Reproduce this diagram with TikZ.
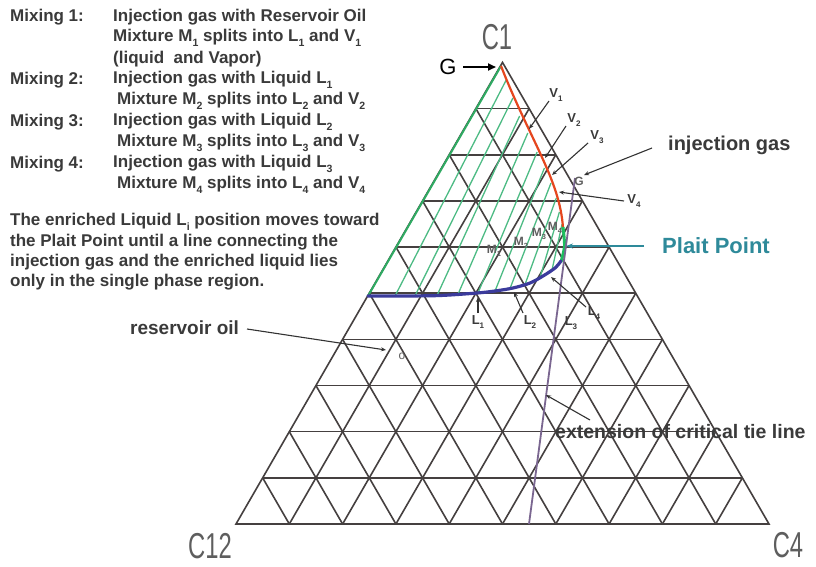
\documentclass[tikz,border=0pt]{standalone}
\usepackage{fontspec}
\setmainfont{Liberation Sans}
\usetikzlibrary{arrows.meta}
\definecolor{gridc}{HTML}{454040}
\definecolor{txtc}{HTML}{3A3A3A}
\definecolor{redc}{HTML}{E5461E}
\definecolor{bluec}{HTML}{3B3B9C}
\definecolor{plaitg}{HTML}{1DBE5E}
\definecolor{tieg}{HTML}{4DBB84}
\definecolor{edgeg}{HTML}{2FAA62}
\definecolor{tealc}{HTML}{2E8A9A}
\definecolor{purc}{HTML}{7A6690}
\definecolor{cornc}{HTML}{5E5E5E}
\definecolor{ptrc}{HTML}{333333}
\newcommand{\subx}[1]{\raisebox{-0.28em}{\scalebox{0.62}{#1}}}
\begin{document}
\begin{tikzpicture}[x=1pt,y=-1pt,
  gridline/.style={draw=gridc, line width=1.6pt},
  tie/.style={draw=tieg, line width=1.3pt},
  ptr/.style={draw=ptrc, line width=1.1pt, -{Stealth[length=5pt,width=4pt]}},
  txt/.style={font=\fontsize{17}{19}\selectfont\bfseries, text=txtc, inner sep=0pt, anchor=west},
  lab/.style={font=\fontsize{20}{22}\selectfont\bfseries, text=txtc, inner sep=0pt, anchor=west},
  sml/.style={font=\fontsize{13}{14}\selectfont\bfseries, text=txtc, inner sep=0pt},
  msml/.style={font=\fontsize{12}{13}\selectfont\bfseries, text=cornc, inner sep=0pt},
  corner/.style={font=\fontsize{36}{36}\selectfont, text=cornc, inner sep=0pt}
]
\useasboundingbox (0,0) rectangle (816,566);
\fill[white] (0,0) rectangle (816,566);

% grid
\foreach \k in {1,...,9} {
  \draw[gridline] ({236+\k*26.65},{524-\k*46.16}) -- ({769-\k*26.65},{524-\k*46.16});
  \draw[gridline] ({236+\k*53.3},524) -- ({236+\k*53.3+(10-\k)*26.65},{524-(10-\k)*46.16});
  \draw[gridline] ({236+\k*53.3},524) -- ({236+\k*26.65},{524-\k*46.16});
}
\draw[gridline, line join=miter] (236,524) -- (769,524) -- (502.5,62.4) -- cycle;

% tie lines
\foreach \lx/\ly/\vx/\vy in {395/296/506.2/80, 415/295.8/512.9/98, 437/295.5/519.6/116, 458/294.3/527.8/133, 478/292.9/537.1/152, 495/291/544.4/168, 510/288.5/551/183, 525/284.5/556.3/198, 540/277.6/559.4/212, 552/270/562.1/224}
  \draw[tie] (\lx,\ly) -- (\vx,\vy);
\draw[edgeg, line width=2pt] (501,66) -- (368,296);

% phase envelope
\draw[redc, line width=2.2pt] (501,66) .. controls (530,140) and (560,180) .. (563,228);
\draw[plaitg, line width=3pt] plot[smooth] coordinates {(563,227) (564.5,246) (561,262)};
\draw[bluec, line width=3.2pt, line cap=round] plot[smooth] coordinates {(561,261) (555,268) (543,276) (530,283) (513,288) (495,291) (477,293) (440,295.5) (400,296) (368,296)};

% critical tie line extension
\coordinate (gpt) at (575,178);
\coordinate (cbot) at (529,524);
\draw[purc, line width=1.8pt] (gpt) -- (cbot);

% corner labels
\node[corner] (c1) at (497,37) {\scalebox{0.66}[1]{C1}};
\node[corner] (c12) at (210,546) {\scalebox{0.66}[1]{C12}};
\node[corner] (c4) at (788,545) {\scalebox{0.66}[1]{C4}};

% G at apex
\node[font=\fontsize{22}{22}\selectfont, inner sep=0pt] (gbig) at (448,67) {G};
\coordinate (apex) at (496,67);
\coordinate (gs) at (463,67);
\draw[line width=1.8pt, -{Triangle[length=8pt,width=7pt]}] (gs) -- (apex);

% V labels
\node[sml] (v1) at (556,95) {V\subx{1}};
\node[sml] (v2) at (574,120) {V\subx{2}};
\node[sml] (v3) at (597,137) {V\subx{3}};
\node[sml] (v4) at (634,201) {V\subx{4}};
\coordinate (v1s) at (549,101); \coordinate (v1e) at (529,129);
\coordinate (v2s) at (566,126); \coordinate (v2e) at (545,158);
\coordinate (v3s) at (588,143); \coordinate (v3e) at (552,175);
\coordinate (v4s) at (624,201); \coordinate (v4e) at (559,192);
\draw[ptr] (v1s) -- (v1e);
\draw[ptr] (v2s) -- (v2e);
\draw[ptr] (v3s) -- (v3e);
\draw[ptr] (v4s) -- (v4e);

% small G
\node[msml] (gsm) at (579,181) {G};

% M labels
\node[msml] (m1) at (494,251) {M\subx{1}};
\node[msml] (m2) at (521,243) {M\subx{2}};
\node[msml] (m3) at (539,234) {M\subx{3}};
\node[msml] (m4) at (555,228) {M\subx{4}};

% L labels
\node[sml] (l1) at (478,322) {L\subx{1}};
\node[sml] (l2) at (530,322) {L\subx{2}};
\node[sml] (l3) at (571,323) {L\subx{3}};
\node[sml] (l4) at (594,313) {L\subx{4}};
\coordinate (l1s) at (478,313); \coordinate (l1e) at (478,297);
\coordinate (l2s) at (523,313); \coordinate (l2e) at (514,292);
\coordinate (l4s) at (586,307); \coordinate (l4e) at (551,277);
\draw[ptr] (l1s) -- (l1e);
\draw[ptr] (l2s) -- (l2e);
\draw[ptr] (l4s) -- (l4e);

% injection gas
\node[lab] (inj) at (668,145) {injection gas};
\coordinate (injs) at (652,148); \coordinate (inje) at (584,175);
\draw[ptr] (injs) -- (inje);

% plait point
\node[lab, text=tealc, font=\fontsize{22}{24}\selectfont\bfseries] (plait) at (662,246) {Plait Point};
\coordinate (pls) at (644,246); \coordinate (ple) at (566,246);
\draw[tealc, line width=1.5pt, -{Stealth[length=7pt,width=5pt]}] (pls) -- (ple);

% reservoir oil
\node[lab, font=\fontsize{19}{21}\selectfont\bfseries] (res) at (130,328) {reservoir oil};
\node[msml, font=\fontsize{12}{12}\selectfont] (oil) at (402,356) {o};
\coordinate (ress) at (247,329); \coordinate (rese) at (386,350);
\draw[ptr] (ress) -- (rese);

% extension of critical tie line
\node[lab, font=\fontsize{19.5}{21}\selectfont\bfseries] (ext) at (555,432) {extension of critical tie line};
\coordinate (exts) at (590,420); \coordinate (exte) at (546,395);
\draw[ptr] (exts) -- (exte);

% left text block
\node[txt] (a1) at (10,17) {Mixing 1:};
\node[txt] (b1) at (113,17) {Injection gas with Reservoir Oil};
\node[txt] (b2) at (113,38) {Mixture M\subx{1} splits into L\subx{1} and V\subx{1}};
\node[txt] (b3) at (113,59) {(liquid \ and Vapor)};
\node[txt] (a4) at (10,80) {Mixing 2:};
\node[txt] (b4) at (113,80) {Injection gas with Liquid L\subx{1}};
\node[txt] (b5) at (117,101) {Mixture M\subx{2} splits into L\subx{2} and V\subx{2}};
\node[txt] (a6) at (10,122) {Mixing 3:};
\node[txt] (b6) at (113,122) {Injection gas with Liquid L\subx{2}};
\node[txt] (b7) at (117,143) {Mixture M\subx{3} splits into L\subx{3} and V\subx{3}};
\node[txt] (a8) at (10,164) {Mixing 4:};
\node[txt] (b8) at (113,164) {Injection gas with Liquid L\subx{3}};
\node[txt] (b9) at (117,185) {Mixture M\subx{4} splits into L\subx{4} and V\subx{4}};
\node[txt] (p1) at (10,222) {The enriched Liquid L\subx{i} position moves toward};
\node[txt] (p2) at (10,242) {the Plait Point until a line connecting the};
\node[txt] (p3) at (10,262) {injection gas and the enriched liquid lies};
\node[txt] (p4) at (10,282) {only in the single phase region.};
\end{tikzpicture}
\end{document}
